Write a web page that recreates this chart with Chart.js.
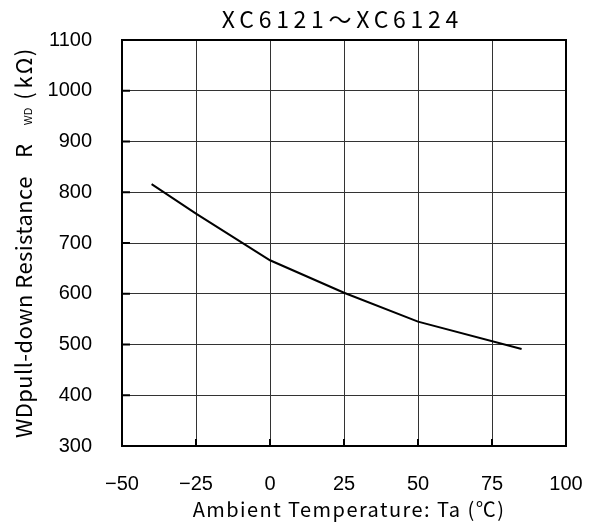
<!DOCTYPE html>
<html>
<head>
<meta charset="utf-8">
<script src="https://cdn.jsdelivr.net/npm/chart.js@4"></script>
<style>
html, body { margin: 0; padding: 0; background: #fff; }
#wrap { width: 589px; height: 528px; position: relative; }
</style>
</head>
<body>
<div id="wrap"><canvas id="rwdChart"></canvas></div>
<script>
// data read from the XC6121~XC6124 curve
const temps = [-40, -25, 0, 25, 50, 85];
const rwd = [816, 758, 666, 602, 545, 491];
const xTicks = [-50, -25, 0, 25, 50, 75, 100];
const yTicks = [300, 400, 500, 600, 700, 800, 900, 1000, 1100];

const chartTitle = 'XC6121～XC6124';
const xTitle = 'Ambient Temperature: Ta (℃)';
const yTitleMain = 'WDpull-down Resistance';
const yTitleR = 'R';
const yTitleSub = 'WD';
const yTitleUnit = ['(', 'k', 'Ω', ')'];

const jpFont = '"Noto Sans CJK JP", "Noto Sans", sans-serif';
const numFont = '"Liberation Sans", Arial, sans-serif';

// frame, inner tick marks and the titles
const decoPlugin = {
    id: 'deco',
    afterDraw(chart) {
        const ctx = chart.ctx;
        const a = chart.chartArea;
        const xs = chart.scales.x, ys = chart.scales.y;
        ctx.save();
        ctx.strokeStyle = '#000';
        ctx.lineWidth = 2;
        ctx.strokeRect(a.left, a.top, a.right - a.left, a.bottom - a.top);

        ctx.beginPath();
        yTicks.forEach(v => {
            const py = ys.getPixelForValue(v);
            ctx.moveTo(a.left, py);
            ctx.lineTo(a.left + 8, py);
        });
        xTicks.forEach(v => {
            const px = xs.getPixelForValue(v);
            ctx.moveTo(px, a.bottom);
            ctx.lineTo(px, a.bottom - 7);
        });
        ctx.stroke();

        ctx.fillStyle = '#000';
        ctx.textBaseline = 'alphabetic';

        // title
        ctx.font = '23px ' + jpFont;
        ctx.letterSpacing = '4.7px';
        ctx.textAlign = 'center';
        ctx.fillText(chartTitle, 340 + 2.4, 28);

        // x title
        ctx.font = '20px ' + jpFont;
        ctx.letterSpacing = '1.45px';
        ctx.fillText(xTitle, 349, 517);

        // y title, rotated
        const base = a.bottom - 8;
        ctx.translate(32, base);
        ctx.rotate(-Math.PI / 2);
        ctx.textAlign = 'left';
        ctx.font = '22px ' + jpFont;
        ctx.letterSpacing = '0.4px';
        ctx.fillText(yTitleMain, 0, 0);
        ctx.fillText(yTitleR, 280, 0);
        ctx.font = '10px ' + numFont;
        ctx.letterSpacing = '0.5px';
        ctx.fillText(yTitleSub, 313, 0);
        ctx.font = '22px ' + jpFont;
        ctx.letterSpacing = '0px';
        ctx.textAlign = 'center';
        const unitPos = [342, 355.5, 372, 385.5];
        yTitleUnit.forEach((c, i) => ctx.fillText(c, unitPos[i], 0));
        ctx.restore();
    }
};

const ctx = document.getElementById('rwdChart').getContext('2d');
new Chart(ctx, {
    type: 'line',
    data: {
        datasets: [{
            data: temps.map((t, i) => ({ x: t, y: rwd[i] })),
            borderColor: '#000',
            borderWidth: 2,
            pointRadius: 0,
            tension: 0,
            fill: false
        }]
    },
    options: {
        responsive: true,
        maintainAspectRatio: false,
        animation: false,
        layout: { padding: { top: 40, right: 23, left: 0, bottom: 0 } },
        plugins: {
            legend: { display: false },
            tooltip: { enabled: false }
        },
        scales: {
            x: {
                type: 'linear',
                min: -50, max: 100,
                afterBuildTicks: s => { s.ticks = xTicks.map(v => ({ value: v })); },
                afterFit: s => { s.height = 82; s.paddingLeft = 0; s.paddingRight = 0; },
                grid: { color: '#333', lineWidth: 1, drawTicks: false },
                border: { color: '#000', width: 2 },
                ticks: {
                    color: '#000',
                    padding: 26,
                    maxRotation: 0,
                    font: { family: numFont, size: 20 },
                    callback: v => (v < 0 ? '−' + Math.abs(v) : String(v))
                }
            },
            y: {
                type: 'linear',
                min: 300, max: 1100,
                afterBuildTicks: s => { s.ticks = yTicks.map(v => ({ value: v })); },
                afterFit: s => { s.width = 122; s.paddingTop = 0; s.paddingBottom = 0; },
                grid: { color: '#333', lineWidth: 1, drawTicks: false },
                border: { color: '#000', width: 2 },
                ticks: {
                    color: '#000',
                    padding: 30,
                    font: { family: numFont, size: 20 },
                    callback: v => String(v)
                }
            }
        }
    },
    plugins: [decoPlugin]
});
</script>
</body>
</html>
